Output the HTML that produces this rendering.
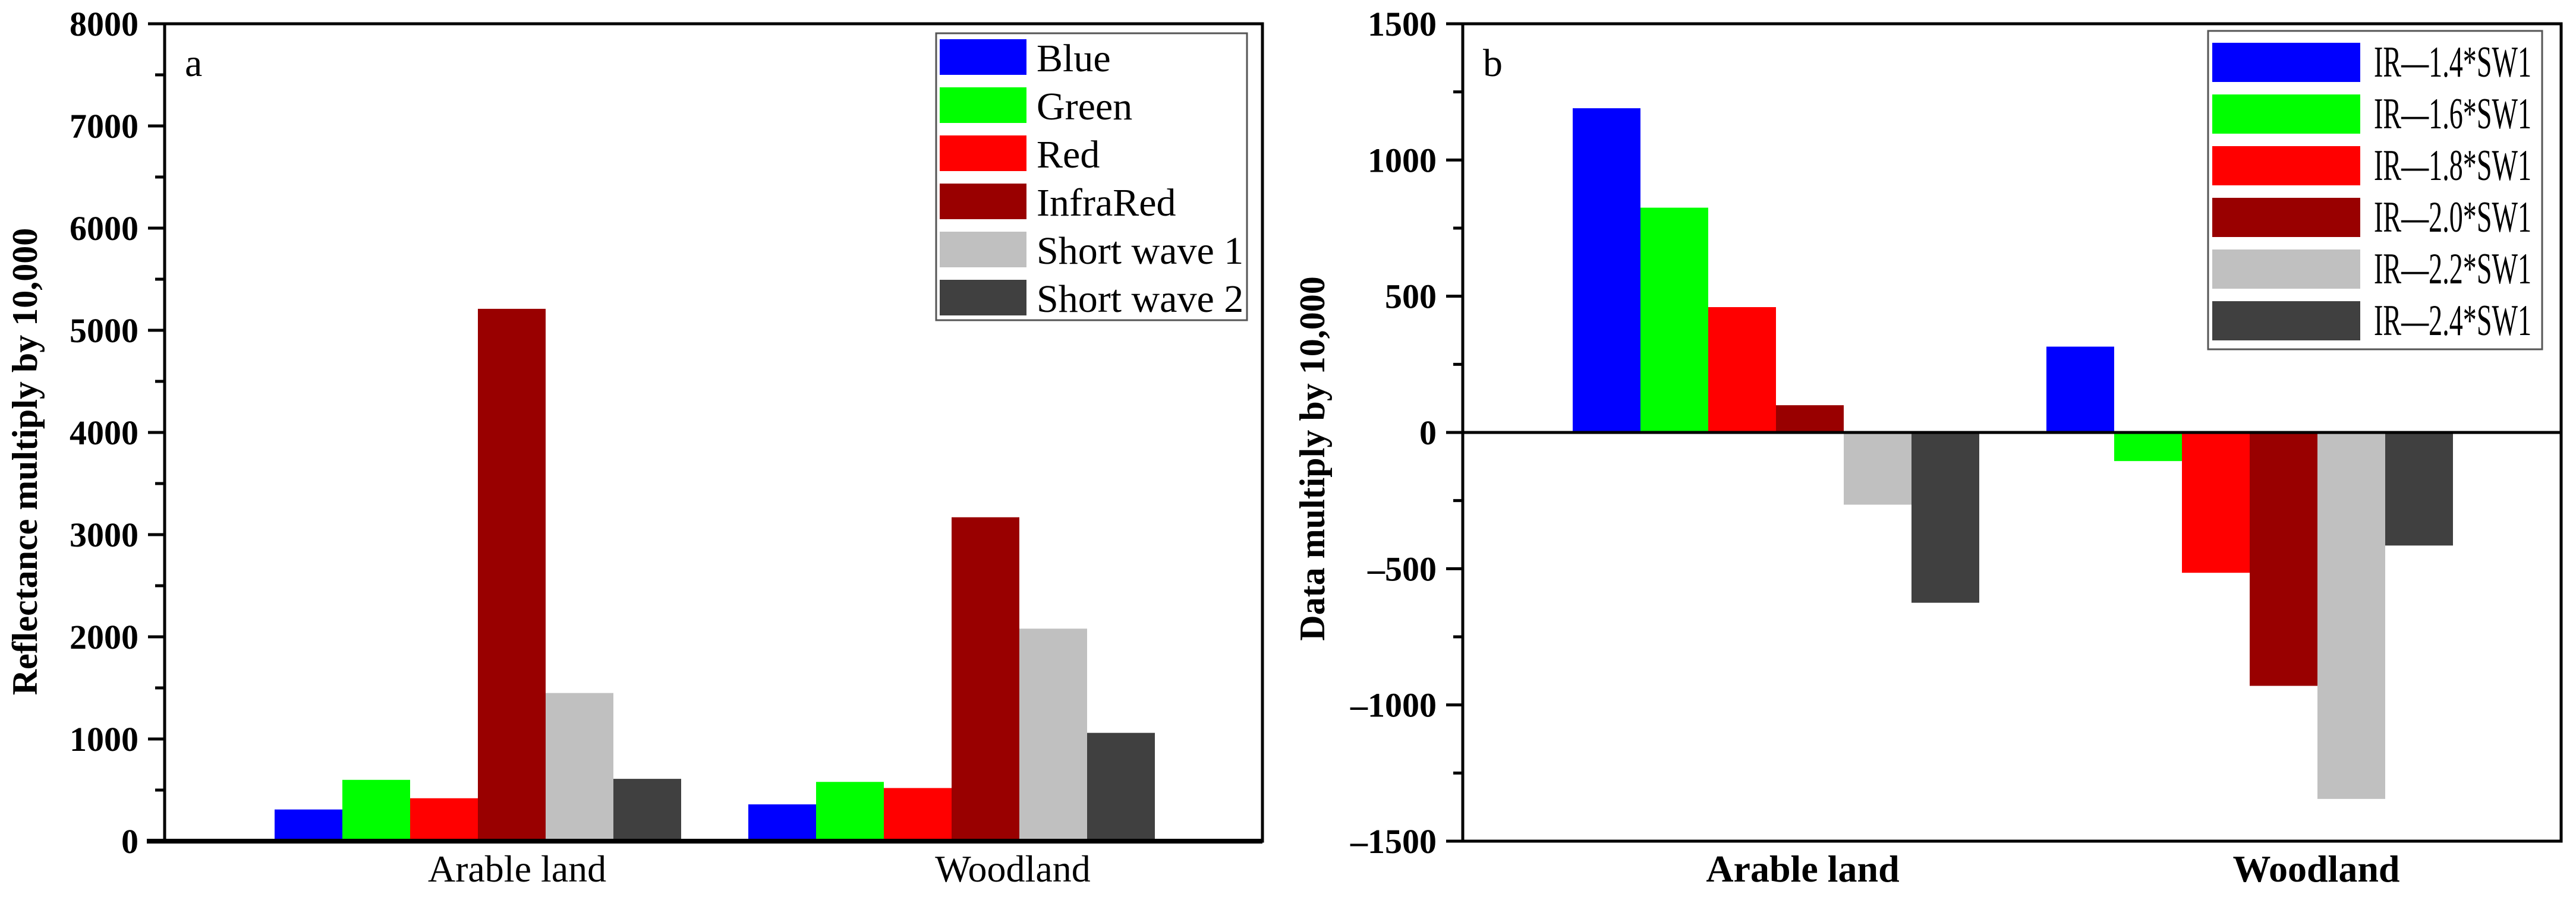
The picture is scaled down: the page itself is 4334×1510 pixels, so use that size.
<!DOCTYPE html>
<html><head><meta charset="utf-8"><style>
html,body{margin:0;padding:0;background:#fff}
svg{display:block}
text{font-family:"Liberation Serif",serif}
</style></head><body>
<svg id="chart" width="4334" height="1510" viewBox="0 0 4334 1510">
<g id="pa"></g>
<g id="pb"></g>
</svg>
<script>
const categories = ["Arable land", "Woodland"];
const seriesA = ["Blue", "Green", "Red", "InfraRed", "Short wave 1", "Short wave 2"];
const valuesA = [[310, 600, 420, 5210, 1450, 610], [360, 580, 520, 3170, 2080, 1060]];
const ticksA = [0, 1000, 2000, 3000, 4000, 5000, 6000, 7000, 8000];
const seriesB = ["IR\u20141.4*SW1", "IR\u20141.6*SW1", "IR\u20141.8*SW1", "IR\u20142.0*SW1", "IR\u20142.2*SW1", "IR\u20142.4*SW1"];
const valuesB = [[1190, 825, 460, 100, -265, -625], [315, -105, -515, -930, -1345, -415]];
const ticksB = [-1500, -1000, -500, 0, 500, 1000, 1500];
const tickLabelsB = ["\u20131500", "\u20131000", "\u2013500", "0", "500", "1000", "1500"];
const colors = ["#0000ff", "#00ff00", "#ff0000", "#990000", "#c0c0c0", "#404040"];

const NS = "http://www.w3.org/2000/svg";
function mk(parent, tag, attrs, txt) {
  const e = document.createElementNS(NS, tag);
  for (const k in attrs) e.setAttribute(k, attrs[k]);
  if (txt !== undefined) e.textContent = txt;
  parent.appendChild(e);
  return e;
}

function panel(g, cfg) {
  const top = 40, bot = 1416;
  const L = cfg.left, R = cfg.right;
  const yS = v => bot - (v - cfg.ymin) / (cfg.ymax - cfg.ymin) * (bot - top);
  const unit = 797, x0 = L + 527;
  const xS = i => x0 + i * unit;
  const bw = 114;
  cfg.values.forEach((grp, ci) => {
    grp.forEach((v, si) => {
      const x = xS(ci) - 3 * bw + si * bw;
      const y1 = yS(Math.max(v, cfg.base)), y2 = yS(Math.min(v, cfg.base));
      const r = mk(g, "rect", {x: x, y: y1, width: bw, height: Math.max(0, y2 - y1), fill: colors[si]});
      
      
    });
  });
  const fr = mk(g, "rect", {x: L, y: top, width: R - L, height: bot - top, fill: "none", stroke: "#000", "stroke-width": 5});
  
  
  if (cfg.zeroLine) {
    const zl = mk(g, "line", {x1: L, x2: R, y1: yS(0), y2: yS(0), stroke: "#000", "stroke-width": 5});
    
    
  } else {
    const bl = mk(g, "line", {x1: L - 30, x2: R, y1: bot, y2: bot, stroke: "#000", "stroke-width": 8});
    
    
  }
  cfg.ticks.forEach((t, i) => {
    const y = yS(t);
    const tk = mk(g, "line", {x1: L - 28, x2: L, y1: y, y2: y, stroke: "#000", "stroke-width": 5});
    
    
    const tl = mk(g, "text", {x: L - 44, y: y + 20, "font-size": 58, "font-weight": "bold", "text-anchor": "end"}, cfg.tickLabels[i]);
    
    
    if (i < cfg.ticks.length - 1) {
      const ym = yS((t + cfg.ticks[i + 1]) / 2);
      const mt = mk(g, "line", {x1: L - 16, x2: L, y1: ym, y2: ym, stroke: "#000", "stroke-width": 5});
      
      
    }
  });
  categories.forEach((c, ci) => {
    const cl = mk(g, "text", {x: xS(ci) + cfg.labelOff[ci], y: 1484, "font-size": 64, "font-weight": cfg.boldCat ? "bold" : "normal", "text-anchor": "middle"}, c);
    
    
  });
  const yt = mk(g, "text", {x: 0, y: 0, "font-size": 60, "font-weight": "bold", "text-anchor": "middle", transform: "translate(" + cfg.titleX + "," + cfg.titleY + ") rotate(-90)"}, cfg.title);
  
  
  const pl = mk(g, "text", {x: L + 34, y: 128, "font-size": 66}, cfg.letter);
  
  
  const lg = cfg.legend;
  const lgG = mk(g, "g", {});
  
  
  const lb = mk(lgG, "rect", {x: lg.x, y: lg.y, width: lg.w, height: lg.h, fill: "#fff", stroke: "#555", "stroke-width": 3});
  
  
  cfg.series.forEach((s, si) => {
    const sy = lg.sy + si * lg.pitch;
    const sw = mk(lgG, "rect", {x: lg.sx, y: sy, width: lg.sw, height: lg.sh, fill: colors[si]});
    
    
    const ta = {x: lg.tx, y: sy + lg.sh / 2 + 24, "font-size": lg.fs || 66};
    if (lg.tl) { ta.textLength = lg.tl; ta.lengthAdjust = "spacingAndGlyphs"; }
    const st = mk(lgG, "text", ta, s);
    
    
  });
}

panel(document.getElementById("pa"), {
  left: 277, right: 2124, ymin: 0, ymax: 8000, base: 0, values: valuesA, series: seriesA,
  ticks: ticksA, tickLabels: ticksA.map(String), zeroLine: false, boldCat: false,
  labelOff: [66, 103], title: "Reflectance multiply by 10,000", titleX: 62, titleY: 777, letter: "a",
  legend: {x: 1575, y: 56, w: 523, h: 483, sx: 1581, sy: 66, sw: 146, sh: 60, pitch: 81, tx: 1744}
});
panel(document.getElementById("pb"), {
  left: 2461, right: 4309, ymin: -1500, ymax: 1500, base: 0, values: valuesB, series: seriesB,
  ticks: ticksB, tickLabels: tickLabelsB, zeroLine: true, boldCat: true,
  labelOff: [45, 112], title: "Data multiply by 10,000", titleX: 2228, titleY: 772, letter: "b",
  legend: {x: 3715, y: 52, w: 562, h: 536, sx: 3722, sy: 72, sw: 249, sh: 66, pitch: 87, tx: 3994, tl: 265, fs: 74}
});
</script>
</body></html>
